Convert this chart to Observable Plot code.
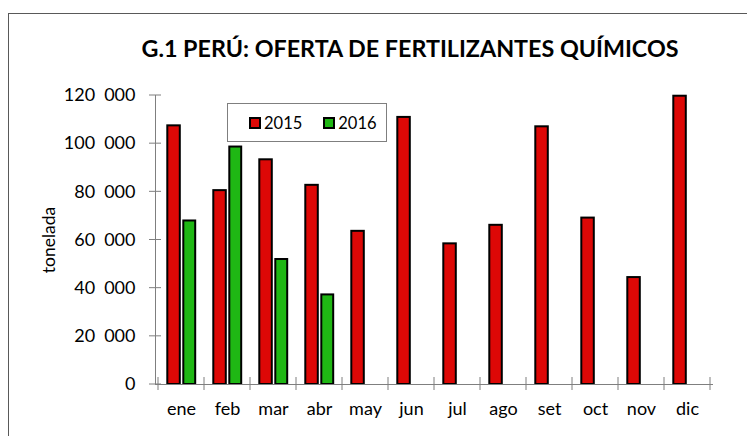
<!DOCTYPE html>
<html>
<head>
<meta charset="utf-8">
<script src="https://cdn.jsdelivr.net/npm/d3@7"></script>
<script src="https://cdn.jsdelivr.net/npm/@observablehq/plot@0.6"></script>
<style>
  body { margin: 0; background: #fff; }
  #wrap { position: relative; width: 747px; height: 436px; overflow: hidden; font-family: Lato, "Open Sans", sans-serif; }
  #frame { position: absolute; left: 8px; top: 13px; width: 800px; height: 500px; border: 1px solid #595959; box-sizing: border-box; }
  #title { position: absolute; left: 0; width: 820px; top: 34px; text-align: center; font-weight: bold; font-size: 23.3px; color: #000; white-space: nowrap; }
  #legend { position: absolute; left: 227px; top: 103px; width: 160px; height: 39px; border: 1px solid #7f7f7f; box-sizing: border-box; background: #fff;
            display: flex; align-items: center; font-size: 16.5px; color: #000; }
  .item { display: flex; align-items: center; }
  .sw { width: 12px; height: 12px; border: 2px solid #000; box-sizing: border-box; margin-right: 3px; }
  #chart { position: absolute; left: 0; top: 0; }
</style>
</head>
<body>
<div id="wrap">
  <div id="frame"></div>
  <div id="chart"></div>
  <div id="title">G.1 PERÚ: OFERTA DE FERTILIZANTES QUÍMICOS</div>
  <div id="legend"></div>
</div>
<script>
const months = ["ene","feb","mar","abr","may","jun","jul","ago","set","oct","nov","dic"];
const values2015 = [107400, 80500, 93300, 82700, 63600, 110900, 58400, 66100, 107000, 69100, 44400, 119700];
const values2016 = [67900, 98600, 51900, 37200];
const years = ["2015", "2016"];
const colors = ["#dd0806", "#1fb714"];
const yTicks = [0, 20000, 40000, 60000, 80000, 100000, 120000];
const yLabel = "tonelada";

const data2015 = months.map((m, i) => ({month: m, value: values2015[i]}));
const data2016 = values2016.map((v, i) => ({month: months[i], value: v}));

const fmt = d => d3.format(",")(d).replace(/,/g, "\u2002");

// Excel-style crossing tick marks, positioned through Plot's scales
const crossTicks = (index, scales, values, dims) => {
  const g = d3.create("svg:g").attr("stroke", "#7f7f7f").attr("stroke-width", 1);
  const x0 = dims.marginLeft;
  const bw = scales.x.bandwidth ? scales.x.bandwidth() : (dims.width - dims.marginLeft - dims.marginRight) / months.length;
  for (const t of yTicks) {
    const y = scales.y(t);
    g.append("line").attr("x1", x0 - 6).attr("x2", x0 + 6).attr("y1", y).attr("y2", y);
  }
  const y0 = scales.y(0);
  const bounds = months.map(m => scales.x(m));
  bounds.push(scales.x(months[months.length - 1]) + bw);
  for (const b of bounds) {
    g.append("line").attr("x1", b).attr("x2", b).attr("y1", y0 - 7).attr("y2", y0 + 6);
  }
  return g.node();
};

const plot = Plot.plot({
  width: 747,
  height: 436,
  marginLeft: 155,
  marginRight: 34,
  marginTop: 95,
  marginBottom: 52,
  style: {fontFamily: "Lato, 'Open Sans', sans-serif", fontSize: "18px", color: "#000", background: "transparent"},
  x: {domain: months, padding: 0, label: null},
  y: {domain: [0, 120000], label: null},
  marks: [
    Plot.barY(data2015, {x: "month", y: "value", fill: colors[0], stroke: "#000", strokeWidth: 2, insetLeft: 9.3, insetRight: 24.2}),
    Plot.barY(data2016, {x: "month", y: "value", fill: colors[1], stroke: "#000", strokeWidth: 2, insetLeft: 25.3, insetRight: 8.8}),
    Plot.ruleY([0], {stroke: "#7f7f7f"}),
    Plot.frame({anchor: "left", stroke: "#7f7f7f"}),
    crossTicks,
    Plot.axisY({ticks: yTicks, tickSize: 0, tickPadding: 20, tickFormat: fmt, fontSize: 18, label: null}),
    Plot.axisX({tickSize: 0, tickPadding: 18, label: null, fontSize: 18}),
    Plot.text([yLabel], {text: d => d, frameAnchor: "left", textAnchor: "middle", rotate: -90, dx: -106, fontSize: 17.5, fill: "#000"})
  ]
});
document.getElementById("chart").appendChild(plot);

const legend = document.getElementById("legend");
years.forEach((yr, i) => {
  const it = document.createElement("div");
  it.className = "item";
  it.style.marginLeft = "21px";
  const sw = document.createElement("div");
  sw.className = "sw";
  sw.style.background = colors[i];
  const t = document.createElement("span");
  t.textContent = yr;
  it.appendChild(sw); it.appendChild(t);
  legend.appendChild(it);
});
</script>
</body>
</html>
